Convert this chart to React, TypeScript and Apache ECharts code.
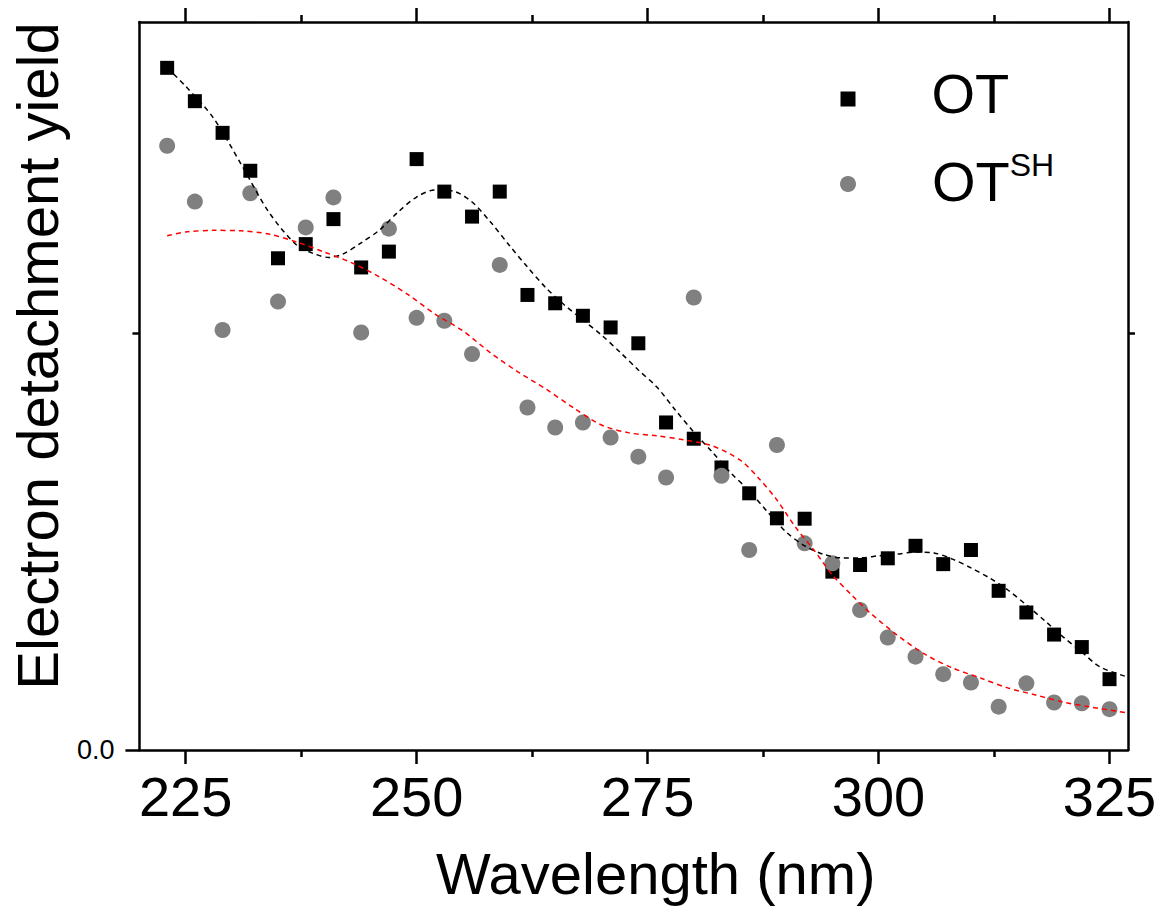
import React, { useEffect, useRef } from "react";
import * as echarts from "echarts";

const wavelengths = [
  223, 226, 229, 232, 235, 238, 241, 244, 247, 250, 253, 256, 259, 262, 265, 268, 271, 274,
  277, 280, 283, 286, 289, 292, 295, 298, 301, 304, 307, 310, 313, 316, 319, 322, 325,
];
const otYield = [
  1.637, 1.557, 1.481, 1.39, 1.18, 1.214, 1.274, 1.158, 1.196, 1.418, 1.34, 1.28, 1.34, 1.092,
  1.072, 1.042, 1.014, 0.976, 0.786, 0.747, 0.678, 0.616, 0.556, 0.555, 0.428, 0.444, 0.46,
  0.49, 0.446, 0.48, 0.382, 0.33, 0.277, 0.247, 0.17,
];
const otshYield = [
  1.45, 1.316, 1.008, 1.336, 1.076, 1.254, 1.326, 1.002, 1.251, 1.037, 1.03, 0.95, 1.164,
  0.822, 0.774, 0.786, 0.75, 0.704, 0.654, 1.086, 0.658, 0.48, 0.732, 0.496, 0.448, 0.336,
  0.27, 0.224, 0.182, 0.162, 0.104, 0.16, 0.114, 0.112, 0.098,
];

const otFitX = [
  223, 225, 228, 231, 234, 237, 239, 240.5, 242, 244, 246, 248, 250, 252, 254, 256, 258, 260,
  262, 264, 266, 268, 270, 272, 274, 276, 278, 280, 282, 284, 286, 288, 290, 292, 294, 296,
  298, 300, 302, 304, 306, 308, 310, 312, 314, 316, 318, 320, 322, 324, 327,
];
const otFitY = [
  1.637, 1.593, 1.517, 1.406, 1.291, 1.212, 1.19, 1.182, 1.19, 1.217, 1.248, 1.291, 1.327,
  1.344, 1.341, 1.315, 1.267, 1.212, 1.159, 1.109, 1.068, 1.032, 0.996, 0.955, 0.912, 0.871,
  0.816, 0.763, 0.715, 0.665, 0.622, 0.571, 0.523, 0.49, 0.47, 0.461, 0.461, 0.466, 0.47,
  0.475, 0.473, 0.458, 0.437, 0.413, 0.384, 0.348, 0.31, 0.271, 0.235, 0.199, 0.175,
];

const otshFitX = [
  223, 225, 228, 231, 234, 237, 240, 243, 246, 249, 252, 255, 258, 261, 264, 267, 270, 273,
  276, 279, 282, 285, 287, 289, 291, 293, 295, 297, 299, 302, 305, 308, 311, 314, 317, 320,
  323, 327,
];
const otshFitY = [
  1.234, 1.243, 1.247, 1.246, 1.238, 1.219, 1.195, 1.169, 1.135, 1.094, 1.046, 1.006, 0.953,
  0.907, 0.866, 0.821, 0.78, 0.761, 0.754, 0.744, 0.73, 0.696, 0.653, 0.6, 0.535, 0.48, 0.42,
  0.374, 0.331, 0.276, 0.23, 0.197, 0.173, 0.149, 0.132, 0.115, 0.103, 0.089,
];

const xMajorTicks = [225, 250, 275, 300, 325];
const xMinorTicks = [237.5, 262.5, 287.5, 312.5];
const yMajorTicks = [0];
const yMinorTicks = [1];

const FONT = "Liberation Sans, Arial, sans-serif";
const X_MIN = 220;
const X_MAX = 327;
const Y_MIN = 0;
const Y_MAX = 1.747;

export default function App() {
  const ref = useRef<HTMLDivElement>(null);

  useEffect(() => {
    if (!ref.current) return;
    const chart = echarts.init(ref.current, undefined, { renderer: "svg" });

    const lineStyle = { color: "#000", width: 2.5 };
    const tickStyle = { color: "#000", width: 2.5 };

    const xBase = { type: "value" as const, min: X_MIN, max: X_MAX, splitLine: { show: false } };
    const yBase = { type: "value" as const, min: Y_MIN, max: Y_MAX, splitLine: { show: false } };

    const option: any = {
      animation: false,
      backgroundColor: "#fff",
      textStyle: { fontFamily: FONT },
      grid: { left: 138, right: 36, top: 22, bottom: 171, containLabel: false },
      legend: [
        {
          data: [{ name: "OT", icon: "rect", itemStyle: { color: "#000", opacity: 1 } }],
          left: 840.5,
          top: 65,
          padding: 0,
          itemWidth: 15,
          itemHeight: 15,
          selectedMode: false,
          formatter: () => "{b|OT}",
          textStyle: {
            padding: [0, 0, 12, 71],
            rich: { b: { fontSize: 56, lineHeight: 64, color: "#000", fontFamily: FONT } },
          },
        },
        {
          data: [{ name: "OTSH", icon: "circle", itemStyle: { color: "#808080", opacity: 1 } }],
          left: 840,
          top: 149,
          padding: 0,
          itemWidth: 16,
          itemHeight: 16,
          selectedMode: false,
          formatter: () => "{b|OT}{s|SH}",
          textStyle: {
            padding: [0, 0, 6, 71],
            rich: {
              b: { fontSize: 56, lineHeight: 64, color: "#000", fontFamily: FONT },
              s: { fontSize: 32, lineHeight: 14, verticalAlign: "top", color: "#000", fontFamily: FONT },
            },
          },
        },
      ],
      xAxis: [
        {
          ...xBase,
          position: "bottom",
          axisLine: { show: true, onZero: false, lineStyle },
          axisTick: { show: true, inside: false, length: 14, lineStyle: tickStyle, customValues: xMajorTicks },
          axisLabel: {
            show: true,
            customValues: xMajorTicks,
            fontSize: 56,
            color: "#000",
            margin: 18,
            fontFamily: FONT,
            formatter: (v: number) => String(v),
          },
          name: "Wavelength (nm)",
          nameLocation: "middle",
          nameGap: 94,
          nameTextStyle: { fontSize: 58, color: "#000", fontFamily: FONT, padding: [0, 0, 0, 44] },
        },
        {
          ...xBase,
          position: "bottom",
          axisLine: { show: false, onZero: false },
          axisTick: { show: true, inside: false, length: 7, lineStyle: tickStyle, customValues: xMinorTicks },
          axisLabel: { show: false },
        },
        {
          ...xBase,
          position: "top",
          axisLine: { show: true, onZero: false, lineStyle },
          axisTick: { show: true, inside: false, length: 14, lineStyle: tickStyle, customValues: xMajorTicks },
          axisLabel: { show: false },
        },
        {
          ...xBase,
          position: "top",
          axisLine: { show: false, onZero: false },
          axisTick: { show: true, inside: false, length: 7, lineStyle: tickStyle, customValues: xMinorTicks },
          axisLabel: { show: false },
        },
      ],
      yAxis: [
        {
          ...yBase,
          position: "left",
          axisLine: { show: true, onZero: false, lineStyle },
          axisTick: { show: true, inside: false, length: 14, lineStyle: tickStyle, customValues: yMajorTicks },
          axisLabel: {
            show: true,
            customValues: yMajorTicks,
            fontSize: 27,
            color: "#000",
            margin: 25,
            fontFamily: FONT,
            formatter: (v: number) => v.toFixed(1),
          },
          name: "Electron detachment yield",
          nameLocation: "middle",
          nameGap: 66,
          nameTextStyle: { fontSize: 58, color: "#000", fontFamily: FONT, padding: [0, 0, 0, 60] },
        },
        {
          ...yBase,
          position: "left",
          axisLine: { show: false, onZero: false },
          axisTick: { show: true, inside: false, length: 7, lineStyle: tickStyle, customValues: yMinorTicks },
          axisLabel: { show: false },
        },
        {
          ...yBase,
          position: "right",
          axisLine: { show: true, onZero: false, lineStyle },
          axisTick: { show: true, inside: false, length: 7, lineStyle: tickStyle, customValues: yMinorTicks },
          axisLabel: { show: false },
        },
      ],
      series: [
        {
          name: "OT",
          type: "scatter",
          xAxisIndex: 0,
          yAxisIndex: 0,
          symbol: "rect",
          symbolSize: 14,
          itemStyle: { color: "#000", opacity: 1 },
          data: wavelengths.map((w, i) => [w, otYield[i]]),
          z: 3,
        },
        {
          name: "OTSH",
          type: "scatter",
          xAxisIndex: 0,
          yAxisIndex: 0,
          symbol: "circle",
          symbolSize: 16,
          itemStyle: { color: "#808080", opacity: 1 },
          data: wavelengths.map((w, i) => [w, otshYield[i]]),
          z: 3,
        },
        {
          name: "OT fit",
          type: "line",
          xAxisIndex: 0,
          yAxisIndex: 0,
          showSymbol: false,
          smooth: 0.3,
          lineStyle: { color: "#000", width: 1.5, type: [5, 4] },
          data: otFitX.map((x, i) => [x, otFitY[i]]),
          z: 4,
        },
        {
          name: "OTSH fit",
          type: "line",
          xAxisIndex: 0,
          yAxisIndex: 0,
          showSymbol: false,
          smooth: 0.3,
          lineStyle: { color: "#ff0000", width: 1.5, type: [5, 4] },
          data: otshFitX.map((x, i) => [x, otshFitY[i]]),
          z: 4,
        },
      ],
    };

    chart.setOption(option);
    return () => chart.dispose();
  }, []);

  return (
    <div
      ref={ref}
      style={{ position: "absolute", left: 0, top: 0, width: 1164, height: 921 }}
    />
  );
}
